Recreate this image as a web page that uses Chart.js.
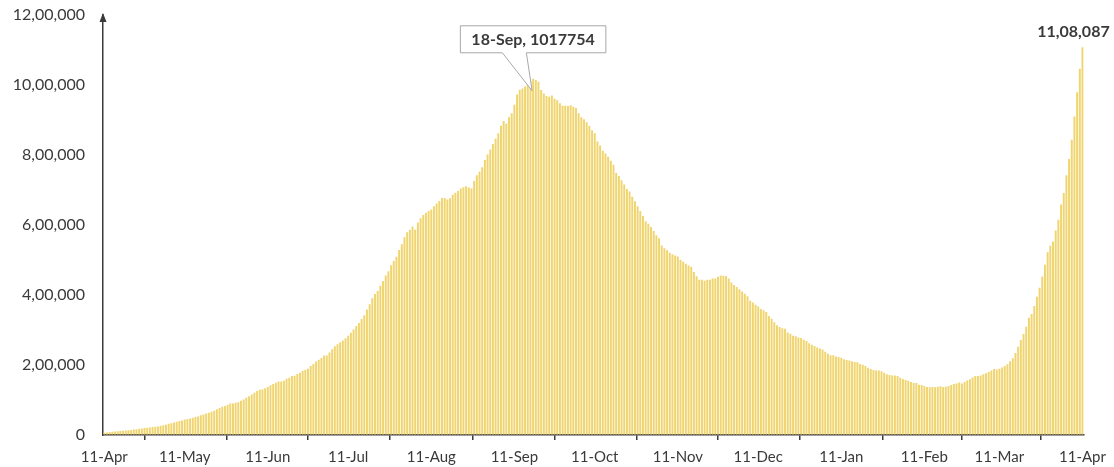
<!DOCTYPE html>
<html>
<head>
<meta charset="utf-8">
<script src="https://cdn.jsdelivr.net/npm/chart.js@4.4.1/dist/chart.umd.min.js"></script>
<style>
  html, body { margin: 0; padding: 0; background: #fff; }
  #wrap { width: 1114px; height: 467px; position: relative; }
</style>
</head>
<body>
<div id="wrap"><canvas id="activeChart"></canvas></div>
<script>
// daily active cases (11-Apr-2020 .. 11-Apr-2021)
const apr2020 = [6565, 7409, 8312, 8988, 9756, 10477, 11201, 11906, 12974, 13295, 14175, 15474, 16116, 17610, 18668, 19868, 20835, 21632, 22629, 23651];
const may2020 = [24162, 26167, 28046, 29453, 32138, 33514, 35902, 37916, 39834, 41472, 44029, 46008, 47480, 49219, 51401, 53035, 56316, 58802, 61149, 63624, 66330, 69597, 73560, 77103, 80722, 83004, 86110, 89987, 89995, 91819, 93322];
const jun2020 = [97581, 101497, 106737, 110960, 115942, 120406, 125381, 129215, 129917, 133632, 137448, 141842, 145779, 149348, 153106, 153178, 155227, 160384, 163248, 168269, 169451, 174387, 178014, 183022, 186514, 189463, 197387, 203051, 210120, 215125];
const jul2020 = [220114, 226947, 227439, 235433, 244814, 253287, 259557, 264944, 269789, 276682, 283407, 292258, 301609, 311565, 319840, 331146, 342473, 358692, 373379, 390459, 402529, 411133, 426167, 440135, 456071, 467882, 485114, 496988, 509447, 528242, 545318];
const aug2020 = [565103, 579357, 586298, 595501, 586244, 607384, 619088, 628747, 634945, 639929, 643948, 653622, 661595, 668220, 677444, 676900, 673166, 676514, 686395, 692028, 697330, 704348, 707668, 710771, 707267, 704348, 725991, 742023, 752424, 765302, 785996];
const sep2020 = [801282, 815538, 831124, 846395, 862320, 883697, 897394, 890000, 908000, 919018, 943480, 973175, 986598, 990061, 995933, 1009976, 1010824, 1017754, 1013964, 1009000, 986000, 975861, 968377, 966382, 970116, 960969, 956402, 947576, 940441, 940705];
const oct2020 = [940000, 942217, 937625, 934427, 919023, 907883, 902425, 893592, 883185, 871000, 861853, 838729, 826876, 812390, 804528, 795087, 783311, 772055, 748538, 740090, 728000, 715812, 703000, 695509, 680680, 668154, 653717, 640000, 625857, 610803, 603687];
const nov2020 = [594386, 582649, 570458, 561908, 541405, 533787, 527962, 520773, 516632, 512665, 509673, 501000, 494657, 489294, 484547, 480719, 465478, 453401, 443794, 443303, 440962, 443486, 443794, 446805, 447376, 452344, 455555, 454940, 453956, 446952];
const dec2020 = [435603, 428644, 422943, 416082, 409689, 403248, 396729, 383866, 378909, 372293, 367062, 359819, 356546, 351555, 339820, 332002, 322366, 313831, 308751, 305344, 303639, 292518, 289240, 283849, 281919, 278690, 277301, 272000, 268581, 262272, 257656];
const jan2021 = [254254, 250183, 247220, 243953, 238000, 232000, 228083, 227546, 224190, 222526, 220677, 216558, 214507, 213027, 211033, 208826, 208012, 203200, 200528, 197201, 192000, 188688, 185662, 184408, 184182, 182240, 178000, 173740, 171686, 170126, 169824];
const feb2021 = [168235, 163353, 160057, 157025, 155025, 151460, 148590, 148609, 143625, 142562, 140000, 137342, 136549, 136872, 136549, 137567, 139542, 137342, 138000, 140000, 143127, 145634, 147306, 150055, 146907, 151708, 155986, 159590];
const mar2021 = [164511, 168627, 168358, 170126, 173413, 176319, 180304, 184523, 188747, 187462, 189226, 192700, 197237, 202022, 210544, 219262, 234406, 252364, 271282, 288394, 309087, 334646, 345377, 368457, 395192, 421066, 452647, 486310, 521808, 540720, 552566];
const apr2021 = [584055, 614696, 658909, 691597, 741830, 788223, 843473, 910319, 979608, 1046631, 1108087];

const activeCases = [].concat(apr2020, may2020, jun2020, jul2020, aug2020, sep2020,
  oct2020, nov2020, dec2020, jan2021, feb2021, mar2021, apr2021);

const tickLabels = ["11-Apr", "11-May", "11-Jun", "11-Jul", "11-Aug", "11-Sep", "11-Oct",
  "11-Nov", "11-Dec", "11-Jan", "11-Feb", "11-Mar", "11-Apr"];
const yTicks = [0, 200000, 400000, 600000, 800000, 1000000, 1200000];
const peakLabel = "18-Sep";

// one category per day
const monthNames = ["Jan", "Feb", "Mar", "Apr", "May", "Jun", "Jul", "Aug", "Sep", "Oct", "Nov", "Dec"];
const dayLabels = [];
const start = new Date(2020, 3, 11);
for (let i = 0; i < activeCases.length; i++) {
  const d = new Date(start.getFullYear(), start.getMonth(), start.getDate() + i);
  dayLabels.push(d.getDate() + "-" + monthNames[d.getMonth()]);
}

// indian digit grouping: 12,00,000
function lakhFormat(n) {
  const s = String(Math.round(n));
  if (s.length <= 3) return s;
  const last3 = s.slice(-3);
  const rest = s.slice(0, -3).replace(/\B(?=(\d{2})+(?!\d))/g, ",");
  return rest + "," + last3;
}

const textColor = "#3a3a3a";
const axisColor = "#3a3a3a";
const barColor = "#F0D46E";

const axisArrow = {
  id: "axisArrow",
  afterDraw(chart) {
    const ctx = chart.ctx;
    const x = chart.chartArea.left;
    const top = chart.chartArea.top;
    ctx.save();
    ctx.fillStyle = axisColor;
    ctx.beginPath();
    ctx.moveTo(x, top - 2);
    ctx.lineTo(x - 3.5, top + 7);
    ctx.lineTo(x + 3.5, top + 7);
    ctx.closePath();
    ctx.fill();
    ctx.restore();
  },
};

const callouts = {
  id: "callouts",
  afterDatasetsDraw(chart) {
    const ctx = chart.ctx;
    const meta = chart.getDatasetMeta(0);
    ctx.save();

    // peak callout box
    const pi = dayLabels.indexOf(peakLabel);
    const pb = meta.data[pi];
    const txt = peakLabel + ", " + activeCases[pi];
    ctx.font = "bold 16px Lato";
    const tw = ctx.measureText(txt).width;
    const bw = tw + 22, bh = 27;
    const L = pb.x - bw / 2, R = L + bw;
    const B = pb.y - 26, T = B - bh;
    const tipX = pb.x - 1, tipY = pb.y + 12;
    ctx.beginPath();
    ctx.moveTo(L, T);
    ctx.lineTo(R, T);
    ctx.lineTo(R, B);
    ctx.lineTo(L + 66, B);
    ctx.lineTo(tipX, tipY);
    ctx.lineTo(L + 42, B);
    ctx.lineTo(L, B);
    ctx.closePath();
    ctx.fillStyle = "#ffffff";
    ctx.fill();
    ctx.strokeStyle = "#a8a8a8";
    ctx.lineWidth = 1;
    ctx.stroke();
    ctx.fillStyle = textColor;
    ctx.textAlign = "center";
    ctx.textBaseline = "middle";
    ctx.fillText(txt, (L + R) / 2, (T + B) / 2 + 1);

    // last value label
    const li = activeCases.length - 1;
    const lb = meta.data[li];
    ctx.font = "bold 16px Lato";
    ctx.fillText(lakhFormat(activeCases[li]), lb.x - 9, lb.y - 15);
    ctx.restore();
  },
};

new Chart(document.getElementById("activeChart"), {
  type: "bar",
  data: {
    labels: dayLabels,
    datasets: [{
      data: activeCases,
      backgroundColor: barColor,
      barPercentage: 0.72,
      categoryPercentage: 1,
    }],
  },
  options: {
    responsive: true,
    maintainAspectRatio: false,
    animation: false,
    layout: { padding: { top: 15, right: 28, left: 0, bottom: 0 } },
    plugins: { legend: { display: false }, tooltip: { enabled: false } },
    scales: {
      x: {
        afterFit: (s) => { s.height = 32; },
        grid: { drawOnChartArea: false, drawTicks: true, tickLength: 5, color: axisColor, lineWidth: 1.5 },
        border: { display: true, color: axisColor, width: 1.5 },
        ticks: {
          autoSkip: false,
          maxRotation: 0,
          padding: 8,
          color: textColor,
          font: { family: "Lato", size: 15 },
          callback: function (value, index) {
            const lab = dayLabels[index];
            return lab.startsWith("11-") ? lab : null;
          },
        },
      },
      y: {
        min: 0,
        max: 1200000,
        afterFit: (s) => {
          s.width = 103;
          // tick padding would otherwise push the plot top down
          s.paddingTop = 0;
          s.paddingBottom = 0;
        },
        afterBuildTicks: (s) => { s.ticks = yTicks.map((v) => ({ value: v })); },
        grid: { drawOnChartArea: false, drawTicks: false },
        border: { display: true, color: axisColor, width: 1.5 },
        ticks: {
          padding: 18,
          color: textColor,
          font: { family: "Lato", size: 16 },
          callback: (v) => lakhFormat(v),
        },
      },
    },
  },
  plugins: [axisArrow, callouts],
});
</script>
</body>
</html>
